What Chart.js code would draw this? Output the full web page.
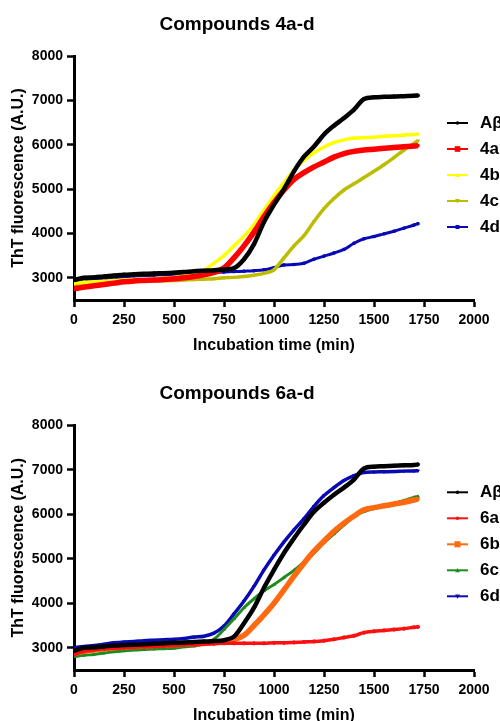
<!DOCTYPE html>
<html>
<head>
<meta charset="utf-8">
<script src="https://cdn.jsdelivr.net/npm/chart.js@4"></script>
<style>
    html, body { margin: 0; padding: 0; background: #fff; overflow: hidden; }
    .panel { position: relative; width: 500px; overflow: hidden; }
    #panelA { height: 360px; }
    #panelB { height: 361px; }
</style>
</head>
<body>
<div class="panel" id="panelA"><canvas id="chart4" width="500" height="360"></canvas></div>
<div class="panel" id="panelB"><canvas id="chart6" width="500" height="370"></canvas></div>
<script>
/* --- 1. DATA --- */
const timeMin = [0, 50, 100, 150, 200, 250, 300, 350, 400, 450, 500, 550, 600, 650, 700, 750, 800, 850,
    900, 950, 1000, 1050, 1100, 1150, 1200, 1250, 1300, 1350, 1400, 1450, 1500, 1550, 1600, 1650, 1700, 1720];

const xTicks = [0, 250, 500, 750, 1000, 1250, 1500, 1750, 2000];
const yTicks = [3000, 4000, 5000, 6000, 7000, 8000];

// Compounds 4a-d
const labels4 = ['Aβ', '4a', '4b', '4c', '4d'];
const abeta4 = [2950, 3000, 3010, 3030, 3050, 3070, 3080, 3090, 3100, 3105, 3115, 3130, 3150, 3160, 3170, 3190, 3220, 3420,
    3760, 4260, 4650, 5000, 5400, 5730, 5960, 6230, 6430, 6600, 6790, 7030, 7070, 7080, 7085, 7095, 7105, 7110];
const c4a = [2750, 2790, 2820, 2850, 2880, 2910, 2930, 2940, 2950, 2960, 2980, 3000, 3030, 3070, 3120, 3220, 3450, 3720,
    4030, 4380, 4700, 4980, 5220, 5370, 5500, 5610, 5720, 5800, 5850, 5880, 5900, 5920, 5940, 5955, 5970, 5980];
const c4b = [2880, 2900, 2910, 2925, 2940, 2950, 2960, 2970, 2980, 2990, 3010, 3040, 3090, 3170, 3330, 3500, 3720, 3940,
    4200, 4530, 4850, 5150, 5430, 5650, 5820, 5950, 6050, 6110, 6150, 6160, 6170, 6190, 6200, 6220, 6230, 6240];
const c4c = [2850, 2870, 2880, 2890, 2900, 2910, 2920, 2925, 2930, 2935, 2940, 2950, 2960, 2970, 2980, 3000, 3010, 3030,
    3060, 3100, 3180, 3450, 3720, 3950, 4270, 4560, 4790, 4980, 5120, 5260, 5400, 5550, 5710, 5880, 6030, 6090];
const c4d = [2900, 2930, 2960, 2980, 3000, 3020, 3040, 3050, 3060, 3070, 3080, 3090, 3100, 3110, 3120, 3130, 3140, 3150,
    3160, 3180, 3230, 3290, 3300, 3330, 3420, 3490, 3560, 3640, 3780, 3880, 3930, 3990, 4050, 4120, 4190, 4220];

// Compounds 6a-d
const labels6 = ['Aβ', '6a', '6b', '6c', '6d'];
const abeta6 = [2930, 3000, 3010, 3030, 3050, 3060, 3070, 3080, 3090, 3100, 3110, 3120, 3130, 3140, 3150, 3170, 3250, 3550,
    3900, 4350, 4750, 5130, 5460, 5770, 6060, 6260, 6440, 6600, 6780, 7030, 7070, 7080, 7090, 7100, 7110, 7120];
const c6a = [2850, 2920, 2950, 2970, 2990, 3000, 3010, 3020, 3030, 3040, 3050, 3060, 3070, 3080, 3090, 3100, 3100, 3100,
    3100, 3100, 3110, 3110, 3120, 3130, 3140, 3160, 3190, 3230, 3270, 3340, 3370, 3390, 3410, 3430, 3460, 3470];
const c6b = [2880, 2920, 2950, 2980, 3000, 3020, 3030, 3040, 3050, 3060, 3070, 3080, 3090, 3100, 3120, 3140, 3180, 3280,
    3500, 3740, 4000, 4300, 4610, 4900, 5170, 5400, 5620, 5800, 5960, 6100, 6150, 6190, 6230, 6270, 6320, 6340];
const c6c = [2800, 2830, 2850, 2880, 2910, 2930, 2950, 2960, 2970, 2980, 2990, 3020, 3040, 3080, 3190, 3410, 3650, 3900,
    4100, 4280, 4420, 4580, 4740, 4930, 5130, 5360, 5560, 5760, 5960, 6060, 6130, 6180, 6240, 6310, 6380, 6400];
const c6d = [3000, 3030, 3050, 3080, 3110, 3130, 3140, 3160, 3170, 3180, 3190, 3210, 3240, 3260, 3330, 3490, 3760, 4050,
    4380, 4750, 5080, 5380, 5650, 5900, 6180, 6420, 6600, 6760, 6870, 6940, 6950, 6955, 6960, 6970, 6975, 6980];

/* --- 2. STYLES --- */
const FONT = "'Liberation Sans', Arial, sans-serif";

const styles4 = [
    { color: '#000000', width: 4.5, marker: 'circle', size: 2.2 },
    { color: '#ff0000', width: 5.5, marker: 'rect', size: 3.5 },
    { color: '#ffff00', width: 3.5, marker: 'triangle', size: 3 },
    { color: '#bcbc00', width: 3.5, marker: 'triangleDown', size: 3 },
    { color: '#0a0ab4', width: 3, marker: 'rect', size: 2.5 }
];
const styles6 = [
    { color: '#000000', width: 4.5, marker: 'circle', size: 2.2 },
    { color: '#ff1010', width: 3.5, marker: 'circle', size: 2.2 },
    { color: '#ff6a10', width: 5.5, marker: 'rect', size: 3.8 },
    { color: '#1e8c1e', width: 3, marker: 'triangle', size: 3 },
    { color: '#0a0ab4', width: 3.5, marker: 'triangleDown', size: 3 }
];

/* --- 3. LEGEND PLUGIN (line + marker + label, right of the plot) --- */
function drawMarker(ctx, kind, x, y, s) {
    ctx.beginPath();
    if (kind === 'circle') {
        ctx.arc(x, y, s, 0, Math.PI * 2);
    } else if (kind === 'rect') {
        ctx.rect(x - s, y - s, s * 2, s * 2);
    } else if (kind === 'triangle') {
        ctx.moveTo(x, y - s);
        ctx.lineTo(x + s, y + s * 0.8);
        ctx.lineTo(x - s, y + s * 0.8);
        ctx.closePath();
    } else {
        ctx.moveTo(x, y + s);
        ctx.lineTo(x + s, y - s * 0.8);
        ctx.lineTo(x - s, y - s * 0.8);
        ctx.closePath();
    }
    ctx.fill();
}

const sideLegend = {
    id: 'sideLegend',
    afterDraw(chart, args, opts) {
        const ctx = chart.ctx;
        const top = chart.chartArea.top;
        ctx.save();
        opts.styles.forEach((st, i) => {
            const y = top + 67 + i * 26;
            ctx.strokeStyle = st.color;
            ctx.fillStyle = st.color;
            ctx.lineWidth = 2;
            ctx.beginPath();
            ctx.moveTo(447, y);
            ctx.lineTo(468, y);
            ctx.stroke();
            drawMarker(ctx, st.marker, 457.5, y, st.size * 0.8);
            ctx.fillStyle = '#000';
            ctx.font = `bold 17px ${FONT}`;
            ctx.textBaseline = 'middle';
            ctx.textAlign = 'left';
            ctx.fillText(chart.data.datasets[i].label, 480, y);
        });
        ctx.restore();
    }
};

/* --- 4. CHART BUILDER --- */
function pointStyleOf(m) {
    if (m === 'triangleDown') return 'triangle';
    return m;
}

function buildChart(canvasId, title, labels, series, styles, titlePad) {
    const datasets = series.map((vals, i) => ({
        label: labels[i],
        data: timeMin.map((t, k) => ({ x: t, y: vals[k] })),
        borderColor: styles[i].color,
        backgroundColor: styles[i].color,
        borderWidth: styles[i].width,
        pointStyle: pointStyleOf(styles[i].marker),
        rotation: styles[i].marker === 'triangleDown' ? 180 : 0,
        pointRadius: 1.6,
        pointBorderWidth: 1,
        cubicInterpolationMode: 'monotone'
    }));

    new Chart(document.getElementById(canvasId), {
        type: 'line',
        data: { datasets },
        options: {
            responsive: false,
            animation: false,
            layout: { padding: { left: 0, right: 26, top: 0, bottom: 0 } },
            plugins: {
                legend: { display: false },
                tooltip: { enabled: false },
                title: {
                    display: true,
                    text: title,
                    color: '#000',
                    font: { family: FONT, size: 19, weight: 'bold' },
                    padding: titlePad
                },
                sideLegend: { styles }
            },
            scales: {
                x: {
                    type: 'linear',
                    min: 0,
                    max: 2000,
                    afterBuildTicks: s => { s.ticks = xTicks.map(v => ({ value: v })); },
                    afterFit: s => { s.height = 60; s.paddingLeft = 0; s.paddingRight = 0; },
                    border: { color: '#000', width: 3 },
                    grid: { drawOnChartArea: false, color: '#000', tickLength: 7, tickWidth: 2.5 },
                    ticks: { color: '#000', padding: 5, maxRotation: 0, autoSkip: false,
                        callback: v => String(v),
                        font: { family: FONT, size: 14, weight: 'bold' } },
                    title: { display: true, text: 'Incubation time (min)', color: '#000',
                        padding: { top: 0, bottom: 5 },
                        font: { family: FONT, size: 16, weight: 'bold' } }
                },
                y: {
                    min: 2500,
                    max: 8000,
                    afterBuildTicks: s => { s.ticks = yTicks.map(v => ({ value: v })); },
                    afterFit: s => { s.width = 74; s.paddingTop = 0; s.paddingBottom = 0; },
                    border: { color: '#000', width: 3 },
                    grid: { drawOnChartArea: false, color: '#000', tickLength: 7, tickWidth: 2.5 },
                    ticks: { color: '#000', padding: 4,
                        callback: v => String(v),
                        font: { family: FONT, size: 14, weight: 'bold' } },
                    title: { display: true, text: 'ThT fluorescence (A.U.)', color: '#000',
                        padding: { top: 9, bottom: 0 },
                        font: { family: FONT, size: 16, weight: 'bold' } }
                }
            }
        },
        plugins: [sideLegend]
    });
}

/* --- 5. INIT --- */
buildChart('chart4', 'Compounds 4a-d', labels4, [abeta4, c4a, c4b, c4c, c4d], styles4,
    { top: 13.6, bottom: 19.6 });
buildChart('chart6', 'Compounds 6a-d', labels6, [abeta6, c6a, c6b, c6c, c6d], styles6,
    { top: 22.6, bottom: 19.9 });
</script>
</body>
</html>
